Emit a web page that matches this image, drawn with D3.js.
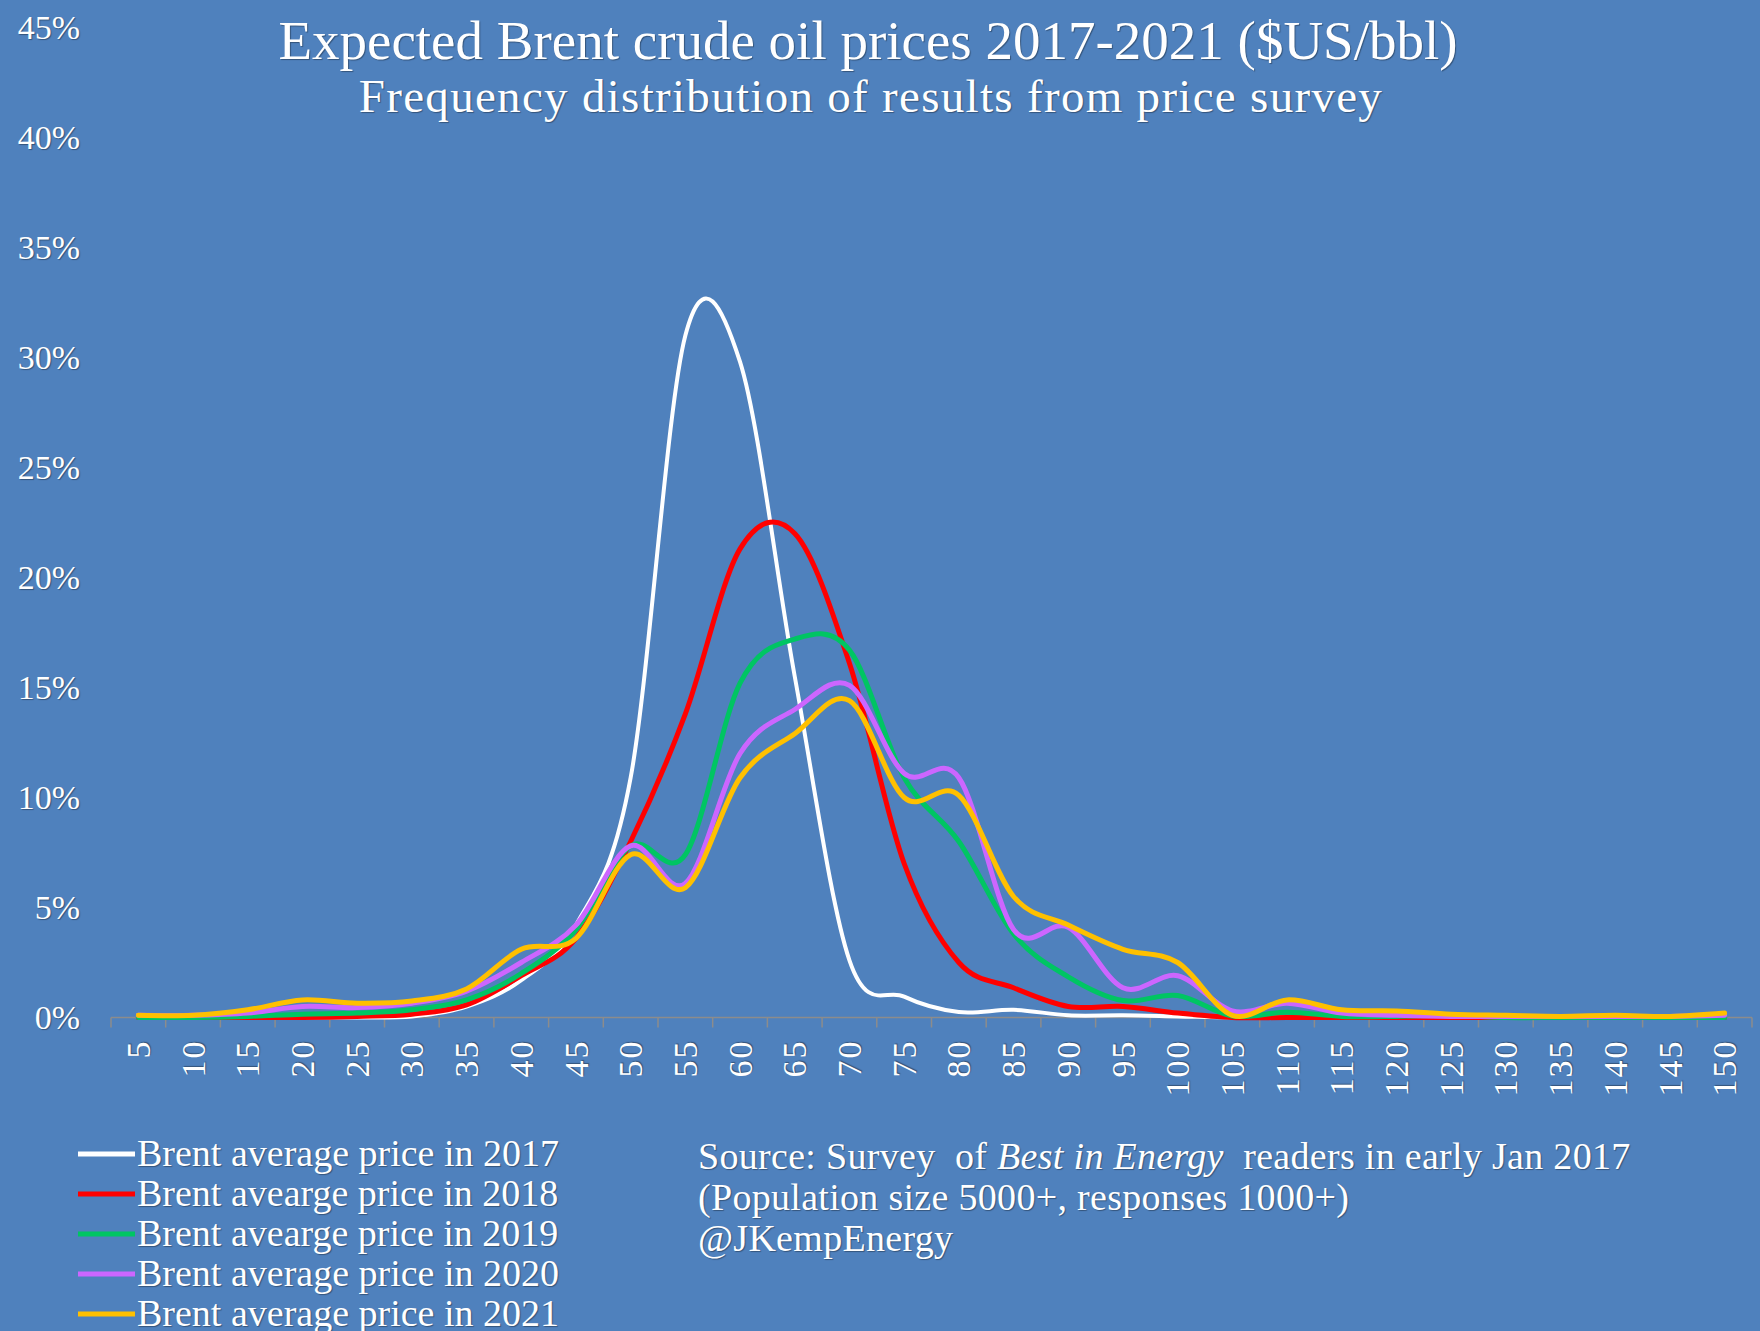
<!DOCTYPE html>
<html>
<head>
<meta charset="utf-8">
<script src="https://cdn.jsdelivr.net/npm/d3@7"></script>
<style>
  html, body { margin: 0; padding: 0; background: #4f81bd; }
  svg { display: block; }
  text { font-family: "Liberation Serif", "DejaVu Serif", serif; fill: #fff; }
  .shadow { text-shadow: 1px 1px 1px rgba(0, 0, 0, 0.35); }
</style>
</head>
<body>
<div id="app"></div>
<script>
// price buckets ($/bbl)
const prices = d3.range(5, 151, 5);

// share of responses per bucket (%)
const y2017 = [0, 0, 0, 0, 0, 0.05, 0.5, 1.7, 4.2, 10.9, 31.0, 29.8, 15.5, 2.6, 0.95, 0.25, 0.35, 0.1, 0.1, 0.05, 0, 0, 0, 0, 0, 0, 0, 0, 0, 0];
const y2018 = [0, 0, 0, 0, 0.05, 0.15, 0.57, 1.9, 3.6, 8.0, 13.8, 21.3, 22.0, 16.1, 7.0, 2.5, 1.35, 0.5, 0.5, 0.2, 0, 0, 0, 0, 0, 0, 0, 0, 0, 0];
const y2019 = [0, 0, 0.05, 0.15, 0.2, 0.35, 0.8, 2.0, 4.0, 7.8, 7.4, 15.2, 17.2, 16.7, 10.9, 8.0, 3.8, 1.85, 0.77, 1.0, 0.07, 0.24, 0.05, 0.05, 0.1, 0, 0, 0, 0, 0];
const y2020 = [0.1, 0.1, 0.2, 0.5, 0.45, 0.65, 1.2, 2.5, 4.2, 7.8, 6.1, 12.0, 14.0, 15.1, 11.1, 10.9, 4.0, 4.1, 1.35, 1.9, 0.3, 0.65, 0.2, 0.1, 0.05, 0.05, 0.05, 0.05, 0.05, 0.1];
const y2021 = [0.1, 0.1, 0.35, 0.8, 0.65, 0.75, 1.3, 3.1, 3.6, 7.4, 5.9, 10.9, 12.9, 14.4, 10.0, 10.1, 5.5, 4.2, 3.1, 2.5, 0.1, 0.8, 0.35, 0.3, 0.15, 0.1, 0.05, 0.1, 0.05, 0.2];

const seriesNames = [
  "Brent average price in 2017",
  "Brent avearge price in 2018",
  "Brent avearge price in 2019",
  "Brent average price in 2020",
  "Brent average price in 2021",
];
const seriesValues = [y2017, y2018, y2019, y2020, y2021];
const seriesColors = ["#ffffff", "#ff0000", "#00c563", "#cc66ff", "#ffc000"];
const seriesWidths = [4, 5, 5, 5, 5];

const yTicks = d3.range(0, 46, 5);

const sourceLines = [
  ["Source: Survey  of ", "Best in Energy", "  readers in early Jan 2017"],
  ["(Population size 5000+, responses 1000+)"],
  ["@JKempEnergy"],
];

const width = 1760;
const height = 1331;

const svg = d3.select("#app").append("svg").attr("width", width).attr("height", height);

svg.append("rect").attr("width", width).attr("height", height).attr("fill", "#4f81bd");

const x = d3.scaleBand().domain(prices).range([111, 1752]).padding(0);
const y = d3.scaleLinear().domain([0, 45]).range([1017.5, 27.5]);

// titles
svg.append("text")
  .attr("class", "shadow")
  .attr("x", 868)
  .attr("y", 59)
  .attr("text-anchor", "middle")
  .attr("font-size", 55)
  .text("Expected Brent crude oil prices 2017-2021 ($US/bbl)");

svg.append("text")
  .attr("class", "shadow")
  .attr("x", 871)
  .attr("y", 112)
  .attr("text-anchor", "middle")
  .attr("font-size", 47)
  .attr("letter-spacing", 1.3)
  .text("Frequency distribution of results from price survey");

// y axis (labels only)
const yAxis = svg.append("g")
  .attr("transform", "translate(86,0)")
  .call(d3.axisLeft(y).tickValues(yTicks).tickSize(0).tickPadding(6).tickFormat((d) => d + "%"));
yAxis.select(".domain").remove();
yAxis.selectAll("text")
  .attr("class", "shadow")
  .attr("font-size", 34)
  .attr("font-family", "Liberation Serif")
  .attr("fill", "#fff");

// x axis: base line + boundary ticks
const xAxis = svg.append("g").attr("transform", `translate(0,${y(0)})`);
xAxis.append("line")
  .attr("x1", x.range()[0])
  .attr("x2", x.range()[1])
  .attr("stroke", "#8c8c8c")
  .attr("stroke-width", 1.5);

const bounds = prices.map((p) => x(p)).concat([x.range()[1]]);
xAxis.selectAll("line.tick")
  .data(bounds)
  .enter()
  .append("line")
  .attr("class", "tick")
  .attr("x1", (d) => d)
  .attr("x2", (d) => d)
  .attr("y1", 0)
  .attr("y2", 10)
  .attr("stroke", "#8c8c8c")
  .attr("stroke-width", 1.5);

// x labels, rotated
const xLabels = svg.append("g")
  .attr("transform", `translate(0,${y(0) + 22})`)
  .call(d3.axisBottom(x).tickSize(0).tickPadding(0));
xLabels.select(".domain").remove();
xLabels.selectAll(".tick text")
  .attr("class", "shadow")
  .attr("font-size", 34)
  .attr("letter-spacing", 2)
  .attr("font-family", "Liberation Serif")
  .attr("fill", "#fff")
  .attr("transform", "rotate(-90)")
  .attr("text-anchor", "end")
  .attr("x", 0)
  .attr("y", 0)
  .attr("dy", "0.34em");

// lines
const line = d3.line()
  .x((d, i) => x(prices[i]) + x.bandwidth() / 2)
  .y((d) => y(d))
  .curve(d3.curveCardinal.tension(0));

svg.append("g")
  .selectAll("path")
  .data(seriesValues)
  .enter()
  .append("path")
  .attr("d", line)
  .attr("fill", "none")
  .attr("stroke", (d, i) => seriesColors[i])
  .attr("stroke-width", (d, i) => seriesWidths[i])
  .attr("stroke-linejoin", "round")
  .attr("stroke-linecap", "round");

// legend
const legend = svg.append("g").attr("transform", "translate(78,1154)");
const entry = legend.selectAll("g")
  .data(seriesNames)
  .enter()
  .append("g")
  .attr("transform", (d, i) => `translate(0,${i * 40})`);
entry.append("line")
  .attr("x1", 0)
  .attr("x2", 57)
  .attr("stroke", (d, i) => seriesColors[i])
  .attr("stroke-width", 5);
entry.append("text")
  .attr("class", "shadow")
  .attr("x", 59)
  .attr("y", 12)
  .attr("font-size", 38)
  .text((d) => d);

// source note
const note = svg.append("g").attr("transform", "translate(698,1169)");
note.selectAll("text")
  .data(sourceLines)
  .enter()
  .append("text")
  .attr("class", "shadow")
  .attr("y", (d, i) => i * 41)
  .attr("font-size", 38)
  .attr("letter-spacing", 0.3)
  .attr("xml:space", "preserve")
  .style("white-space", "pre")
  .each(function (parts) {
    const t = d3.select(this);
    parts.forEach((p, k) => {
      t.append("tspan")
        .attr("font-style", parts.length > 1 && k === 1 ? "italic" : null)
        .text(p);
    });
  });
</script>
</body>
</html>
